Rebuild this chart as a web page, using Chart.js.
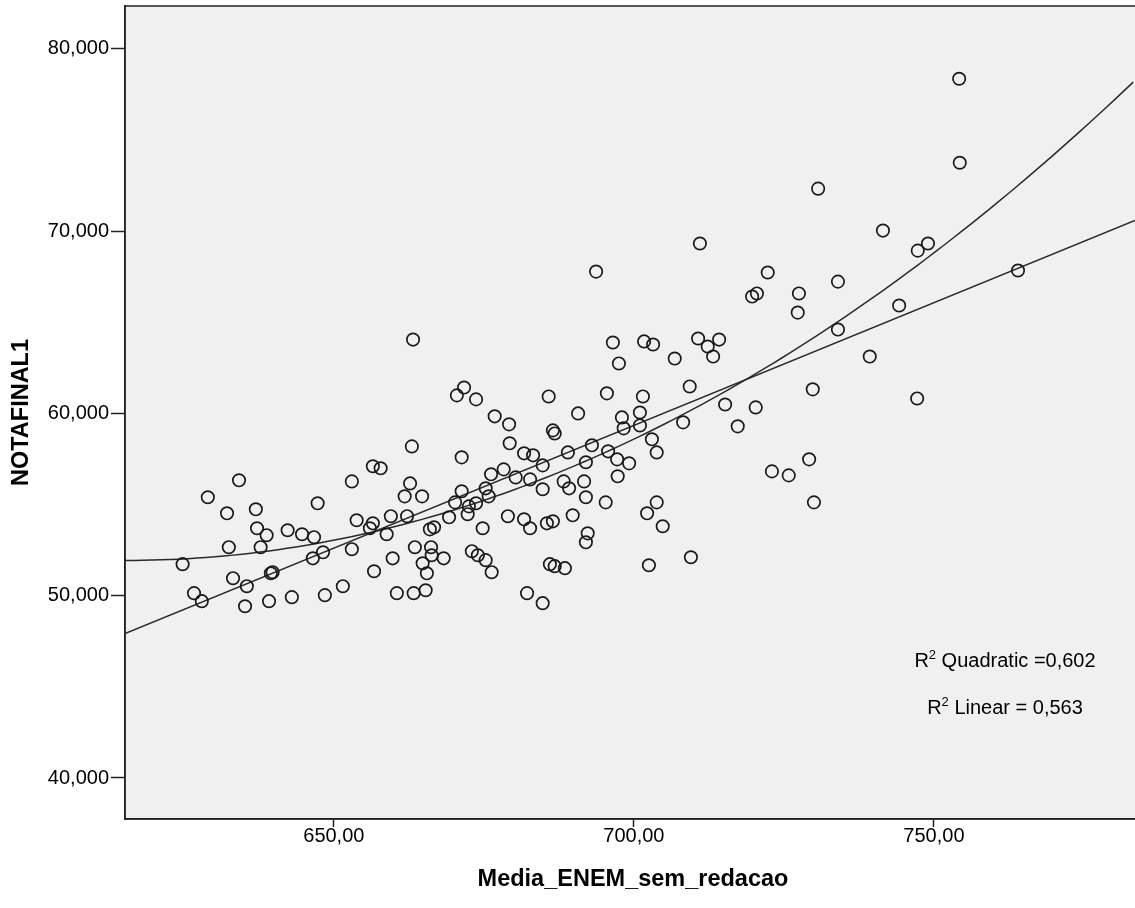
<!DOCTYPE html>
<html>
<head>
<meta charset="utf-8">
<script src="https://cdn.jsdelivr.net/npm/chart.js@4"></script>
<style>
  html, body { margin: 0; padding: 0; background: #fff; }
  #wrap { width: 1135px; height: 908px; }
</style>
</head>
<body>
<div id="wrap"><canvas id="chart" width="1135" height="908"></canvas></div>
<script>
// ---- Data ----
const mediaEnem = [
  634.2, 629.0, 632.2, 637.0, 653.0, 647.3, 653.8, 637.2, 638.8, 642.3,
  644.7, 646.7, 632.5, 637.8, 624.8, 648.2, 646.5, 653.0, 639.8, 639.5,
  633.2, 635.5, 651.5, 626.7, 628.0, 635.2, 639.2, 643.0, 648.5, 679.2,
  679.3, 663.0, 671.3, 656.5, 657.8, 681.7, 683.2, 684.8, 678.3, 676.2,
  680.3, 682.7, 662.7, 661.8, 664.7, 671.3, 675.3, 684.8, 675.8, 670.2,
  673.7, 672.5, 656.5, 656.0, 659.5, 662.2, 669.2, 672.3, 679.0, 681.7,
  682.7, 658.8, 666.0, 666.7, 674.8, 663.5, 666.2, 659.8, 666.3, 668.3,
  664.8, 665.5, 673.0, 674.0, 675.3, 676.3, 656.7, 660.5, 663.3, 665.3,
  682.2, 684.8, 697.5, 706.8, 713.2, 685.8, 695.5, 701.5, 709.3, 690.7,
  698.0, 701.0, 715.2, 708.2, 717.3, 698.3, 701.0, 686.5, 686.8, 703.0,
  703.8, 693.0, 689.0, 695.7, 697.2, 699.2, 692.0, 697.3, 688.3, 689.2,
  691.7, 692.0, 695.3, 703.8, 702.2, 704.8, 689.8, 685.5, 686.5, 692.3,
  692.0, 709.5, 702.5, 686.0, 686.8, 688.5, 711.0, 722.3, 734.0, 719.7,
  720.5, 727.5, 727.3, 734.0, 701.7, 703.2, 710.7, 714.2, 712.3, 729.8,
  720.3, 729.2, 754.2, 754.3, 730.7, 741.5, 747.3, 749.0, 764.0, 744.2,
  739.3, 747.2, 725.8, 663.2, 671.7, 670.5, 673.7, 676.8, 693.7, 696.5,
  723.0, 730.0
];
const notaFinal = [
  56.33, 55.40, 54.52, 54.74, 56.27, 55.07, 54.14, 53.70, 53.32, 53.59,
  53.37, 53.21, 52.66, 52.66, 51.73, 52.38, 52.05, 52.55, 51.29, 51.23,
  50.96, 50.52, 50.52, 50.14, 49.70, 49.42, 49.70, 49.92, 50.03, 59.40,
  58.36, 58.19, 57.59, 57.10, 56.99, 57.81, 57.70, 57.15, 56.93, 56.66,
  56.49, 56.38, 56.16, 55.45, 55.45, 55.73, 55.89, 55.84, 55.45, 55.12,
  55.07, 54.90, 53.97, 53.70, 54.36, 54.36, 54.30, 54.47, 54.36, 54.19,
  53.70, 53.37, 53.64, 53.75, 53.70, 52.66, 52.66, 52.05, 52.22, 52.05,
  51.78, 51.23, 52.44, 52.22, 51.95, 51.29, 51.34, 50.14, 50.14, 50.30,
  50.14, 49.59, 62.74, 63.01, 63.12, 60.93, 61.10, 60.93, 61.48, 60.00,
  59.78, 60.05, 60.49, 59.51, 59.29, 59.18, 59.34, 59.07, 58.90, 58.58,
  57.86, 58.25, 57.86, 57.92, 57.48, 57.26, 57.32, 56.55, 56.27, 55.89,
  56.27, 55.40, 55.12, 55.12, 54.52, 53.81, 54.41, 53.97, 54.08, 53.42,
  52.93, 52.11, 51.67, 51.73, 51.62, 51.51, 69.32, 67.73, 67.23, 66.41,
  66.58, 66.58, 65.53, 64.60, 63.95, 63.78, 64.11, 64.05, 63.67, 61.32,
  60.33, 57.48, 78.36, 73.75, 72.33, 70.03, 68.93, 69.32, 67.84, 65.92,
  63.12, 60.82, 56.60, 64.05, 61.42, 60.99, 60.77, 59.84, 67.78, 63.89,
  56.82, 55.12
];

const xTicks = [650, 700, 750];
const yTicks = [40, 50, 60, 70, 80];
const xRange = [615.2, 783.5];
const yRange = [37.75, 82.35];
const r2Lines = ["Quadratic =0,602", "Linear = 0,563"];

// ---- Fit lines (least squares on the points above) ----
function mean(arr) {
  return arr.reduce((a, b) => a + b, 0) / arr.length;
}

function linearFit(xs, ys) {
  const mx = mean(xs), my = mean(ys);
  let sxy = 0, sxx = 0;
  for (let i = 0; i < xs.length; i++) {
    sxy += (xs[i] - mx) * (ys[i] - my);
    sxx += (xs[i] - mx) * (xs[i] - mx);
  }
  const b = sxy / sxx;
  return (x) => my + b * (x - mx);
}

function quadFit(xs, ys) {
  const mx = mean(xs);
  const s = [0, 0, 0, 0, 0], t = [0, 0, 0];
  for (let i = 0; i < xs.length; i++) {
    const u = xs[i] - mx;
    for (let k = 0; k < 5; k++) s[k] += Math.pow(u, k);
    for (let k = 0; k < 3; k++) t[k] += ys[i] * Math.pow(u, k);
  }
  // normal equations, gaussian elimination
  const m = [
    [s[0], s[1], s[2], t[0]],
    [s[1], s[2], s[3], t[1]],
    [s[2], s[3], s[4], t[2]]
  ];
  for (let c = 0; c < 3; c++) {
    for (let r = c + 1; r < 3; r++) {
      const f = m[r][c] / m[c][c];
      for (let k = c; k < 4; k++) m[r][k] -= f * m[c][k];
    }
  }
  const coef = [0, 0, 0];
  for (let r = 2; r >= 0; r--) {
    let v = m[r][3];
    for (let k = r + 1; k < 3; k++) v -= m[r][k] * coef[k];
    coef[r] = v / m[r][r];
  }
  return (x) => coef[0] + coef[1] * (x - mx) + coef[2] * (x - mx) * (x - mx);
}

const linFn = linearFit(mediaEnem, notaFinal);
const quadFn = quadFit(mediaEnem, notaFinal);

const linearLine = [
  { x: xRange[0], y: linFn(xRange[0]) },
  { x: xRange[1], y: linFn(xRange[1]) }
];
const quadLine = [];
for (let x = xRange[0]; x <= xRange[1] + 0.001; x += 1.5) {
  quadLine.push({ x: x, y: quadFn(x) });
}

const points = mediaEnem.map((x, i) => ({ x: x, y: notaFinal[i] }));

// ---- Frame, background, titles and R2 notes ----
const FONT = "'Liberation Sans', Arial, sans-serif";

const plotFrame = {
  id: "plotFrame",
  beforeDraw(chart) {
    const { ctx, chartArea: a } = chart;
    ctx.save();
    ctx.fillStyle = "#ffffff";
    ctx.fillRect(0, 0, chart.width, chart.height);
    ctx.fillStyle = "#f0f0f0";
    ctx.fillRect(a.left, a.top, a.right - a.left, a.bottom - a.top);
    ctx.restore();
  },
  afterDraw(chart) {
    const { ctx, chartArea: a } = chart;
    ctx.save();
    ctx.strokeStyle = "#222";
    ctx.lineWidth = 1.5;
    ctx.strokeRect(a.left, a.top, a.right - a.left + 2, a.bottom - a.top);

    // axis titles
    ctx.fillStyle = "#000";
    ctx.font = "bold 23.5px " + FONT;
    ctx.textAlign = "center";
    ctx.textBaseline = "middle";
    ctx.fillText("Media_ENEM_sem_redacao", (a.left + a.right) / 2 + 3, 880);
    ctx.translate(22, (a.top + a.bottom) / 2);
    ctx.rotate(-Math.PI / 2);
    ctx.fillText("NOTAFINAL1", 0, 0);
    ctx.restore();

    // R2 notes
    ctx.save();
    ctx.fillStyle = "#000";
    ctx.textBaseline = "alphabetic";
    ctx.textAlign = "left";
    const cx = a.right - 130;
    const baselines = [667, 714];
    r2Lines.forEach((txt, i) => {
      ctx.font = "20px " + FONT;
      const wR = ctx.measureText("R").width;
      const wRest = ctx.measureText(" " + txt).width;
      ctx.font = "13px " + FONT;
      const w2 = ctx.measureText("2").width;
      const total = wR + w2 + wRest;
      let x = cx - total / 2;
      ctx.font = "20px " + FONT;
      ctx.fillText("R", x, baselines[i]);
      x += wR;
      ctx.font = "13px " + FONT;
      ctx.fillText("2", x, baselines[i] - 8);
      x += w2;
      ctx.font = "20px " + FONT;
      ctx.fillText(" " + txt, x, baselines[i]);
    });
    ctx.restore();
  }
};

// ---- Chart ----
const ctx = document.getElementById("chart");

new Chart(ctx, {
  type: "scatter",
  data: {
    datasets: [
      {
        label: "NOTAFINAL1",
        data: points,
        pointStyle: "circle",
        pointRadius: 6.2,
        pointBorderWidth: 1.7,
        pointBorderColor: "#1a1a1a",
        pointBackgroundColor: "rgba(0,0,0,0)",
        order: 1
      },
      {
        label: "Linear",
        type: "line",
        data: linearLine,
        borderColor: "#2a2a2a",
        borderWidth: 1.5,
        pointRadius: 0,
        fill: false,
        clip: 0,
        order: 2
      },
      {
        label: "Quadratic",
        type: "line",
        data: quadLine,
        borderColor: "#2a2a2a",
        borderWidth: 1.5,
        pointRadius: 0,
        tension: 0,
        fill: false,
        clip: 0,
        order: 3
      }
    ]
  },
  options: {
    responsive: false,
    animation: false,
    devicePixelRatio: 1,
    layout: { autoPadding: false, padding: { top: 6, right: 0, left: 0, bottom: 0 } },
    plugins: {
      legend: { display: false },
      tooltip: { enabled: false }
    },
    scales: {
      x: {
        type: "linear",
        min: xRange[0],
        max: xRange[1],
        afterBuildTicks: (scale) => {
          scale.ticks = xTicks.map((v) => ({ value: v }));
        },
        afterFit: (scale) => {
          scale.height = 89;
          scale.paddingLeft = 0;
          scale.paddingRight = 0;
        },
        ticks: {
          autoSkip: false,
          maxRotation: 0,
          padding: -3,
          color: "#000",
          font: { family: FONT, size: 20 },
          callback: (v) => v.toFixed(2).replace(".", ",")
        },
        grid: {
          drawOnChartArea: false,
          drawTicks: true,
          tickLength: 8,
          tickColor: "#222",
          tickWidth: 1.5
        },
        border: { display: true, color: "#222", width: 1.5 }
      },
      y: {
        type: "linear",
        min: yRange[0],
        max: yRange[1],
        afterBuildTicks: (scale) => {
          scale.ticks = yTicks.map((v) => ({ value: v }));
        },
        afterFit: (scale) => {
          scale.width = 125;
          scale.paddingTop = 0;
          scale.paddingBottom = 0;
        },
        ticks: {
          autoSkip: false,
          padding: 2,
          color: "#000",
          font: { family: FONT, size: 20 },
          callback: (v) => v.toFixed(3).replace(".", ",")
        },
        grid: {
          drawOnChartArea: false,
          drawTicks: true,
          tickLength: 14,
          tickColor: "#222",
          tickWidth: 1.5
        },
        border: { display: true, color: "#222", width: 1.5 }
      }
    }
  },
  plugins: [plotFrame]
});
</script>
</body>
</html>
